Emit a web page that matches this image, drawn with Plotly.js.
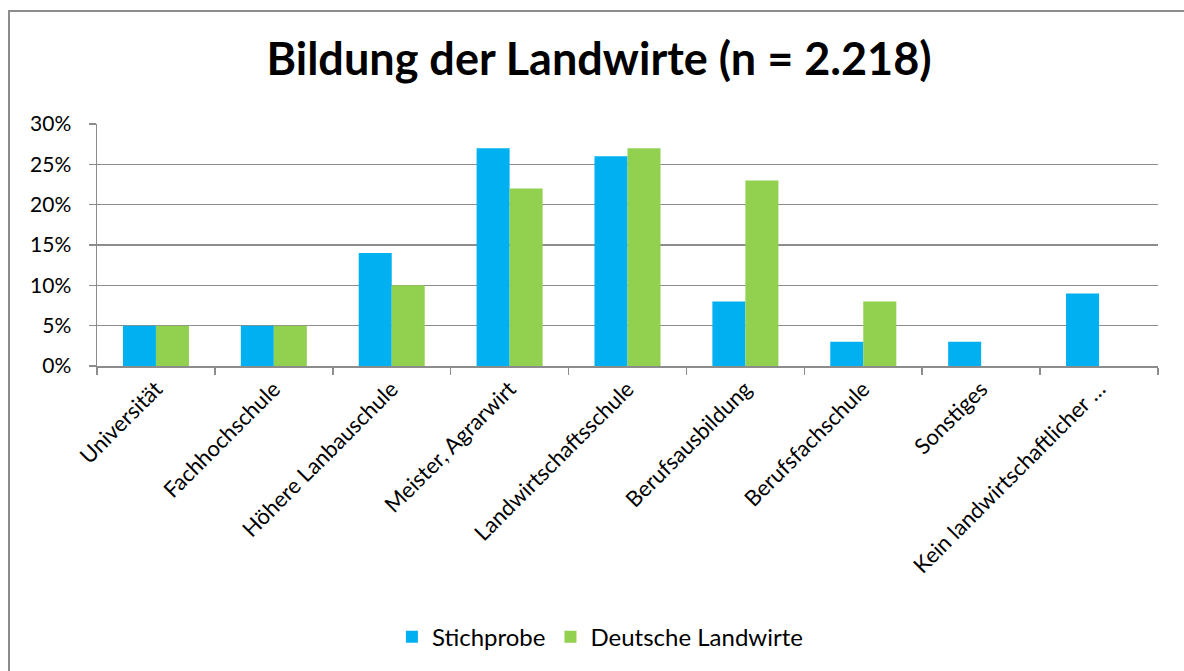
<!DOCTYPE html>
<html>
<head>
<meta charset="utf-8">
<script src="https://cdn.plot.ly/plotly-3.0.1.min.js"></script>
<style>
  html, body { margin: 0; padding: 0; background: #fff; overflow: hidden; }
  #wrap { position: relative; width: 1184px; height: 671px; overflow: hidden; }
  #chart { position: absolute; left: 0; top: 0; width: 1184px; height: 671px; }
  .edge { position: absolute; background: #8c8c8c; pointer-events: none; }
  #edgeTop { left: 8px; top: 10px; width: 1176px; height: 2px; }
  #edgeLeft { left: 8px; top: 10px; width: 2px; height: 661px; }
</style>
</head>
<body>
<div id="wrap">
  <div id="chart"></div>
  <div class="edge" id="edgeTop"></div>
  <div class="edge" id="edgeLeft"></div>
</div>
<script>
const categories = [
  "Universität",
  "Fachhochschule",
  "Höhere Lanbauschule",
  "Meister, Agrarwirt",
  "Landwirtschaftsschule",
  "Berufsausbildung",
  "Berufsfachschule",
  "Sonstiges",
  "Kein landwirtschaftlicher …"
];
const stichprobe = [0.05, 0.05, 0.14, 0.27, 0.26, 0.08, 0.03, 0.03, 0.09];
const deutscheLandwirte = [0.05, 0.05, 0.10, 0.22, 0.27, 0.23, 0.08, null, null];
const seriesNames = ["Stichprobe", "Deutsche Landwirte"];
const titleText = "Bildung der Landwirte (n = 2.218)";

const FONT = "Lato, 'Open Sans', sans-serif";

const traces = [
  { type: "bar", name: seriesNames[0], x: categories, y: stichprobe, marker: { color: "#00B0F0" }, hoverinfo: "none" },
  { type: "bar", name: seriesNames[1], x: categories, y: deutscheLandwirte, marker: { color: "#92D050" }, hoverinfo: "none" }
];

const layout = {
  width: 1184,
  height: 671,
  margin: { l: 97, r: 26, t: 124, b: 305 },
  paper_bgcolor: "#ffffff",
  plot_bgcolor: "#ffffff",
  font: { family: FONT, color: "#000000", size: 21 },
  title: {
    text: "<b>" + titleText + "</b>",
    font: { family: FONT, size: 45, color: "#000000" },
    x: 0.506, xanchor: "center", xref: "container",
    y: 0.912, yanchor: "middle", yref: "container"
  },
  barmode: "group",
  bargap: 0.44,
  bargroupgap: 0,
  xaxis: {
    type: "category",
    tickangle: -45,
    tickson: "boundaries",
    ticks: "outside",
    ticklen: 7,
    tickcolor: "#8c8c8c",
    tickwidth: 1.5,
    showline: true,
    linecolor: "#8c8c8c",
    linewidth: 1.5,
    showgrid: false,
    tickfont: { family: FONT, size: 22, color: "#000" },
    fixedrange: true
  },
  yaxis: {
    range: [0, 0.3],
    dtick: 0.05,
    tick0: 0,
    tickformat: ".0%",
    ticks: "outside",
    ticklen: 7,
    tickcolor: "#8c8c8c",
    tickwidth: 1.5,
    ticklabelstandoff: 13,
    showline: true,
    linecolor: "#8c8c8c",
    linewidth: 1.5,
    showgrid: true,
    gridcolor: "#8c8c8c",
    gridwidth: 1.2,
    zeroline: false,
    tickfont: { family: FONT, size: 21, color: "#000" },
    fixedrange: true
  },
  showlegend: true,
  legend: {
    orientation: "h",
    x: 0.474, xanchor: "center",
    y: -1.12, yanchor: "middle",
    font: { family: FONT, size: 24, color: "#000" },
    itemwidth: 30,
    traceorder: "normal"
  }
};

Plotly.newPlot("chart", traces, layout, { displayModeBar: false, staticPlot: true });
</script>
</body>
</html>
